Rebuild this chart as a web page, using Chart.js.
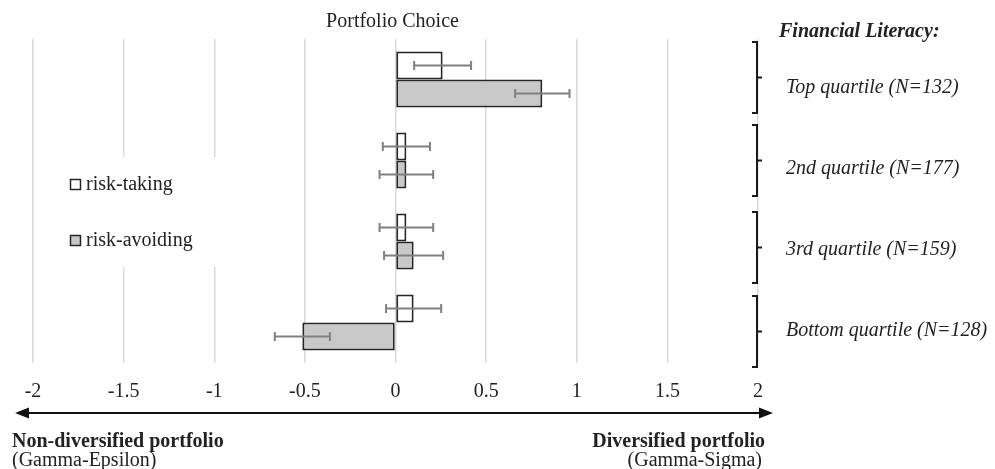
<!DOCTYPE html>
<html>
<head>
<meta charset="utf-8">
<title>Portfolio Choice</title>
<script src="https://cdn.jsdelivr.net/npm/chart.js@4"></script>
<style>
  html, body { margin: 0; padding: 0; background: #ffffff; }
  canvas { display: block; }
</style>
</head>
<body>
<canvas id="chart" width="995" height="469"></canvas>
<script>
// Financial literacy groups, top to bottom
const categories = [
  'Top quartile (N=132)',
  '2nd quartile (N=177)',
  '3rd quartile (N=159)',
  'Bottom quartile (N=128)'
];

// Mean portfolio choice score per group and its error half-width
const riskTaking = [0.26, 0.06, 0.06, 0.10];
const riskTakingErr = [0.157, 0.13, 0.148, 0.152];
const riskAvoiding = [0.81, 0.06, 0.10, -0.514];
const riskAvoidingErr = [0.15, 0.148, 0.163, 0.152];

const seriesNames = ['risk-taking', 'risk-avoiding'];

const SERIF = '"Liberation Serif", "Times New Roman", serif';
const INK = '#222222';

// Right-hand group brackets: vertical shift relative to each row centre
const bracketShift = [-2, 0, 6, 9];

const decor = {
  id: 'decor',
  afterDatasetsDraw(chart) {
    const ctx = chart.ctx;
    const xs = chart.scales.x;
    ctx.save();
    // error bars
    chart.data.datasets.forEach((ds, di) => {
      const meta = chart.getDatasetMeta(di);
      meta.data.forEach((bar, i) => {
        const v = ds.data[i];
        const e = ds.errors[i];
        const x1 = xs.getPixelForValue(v - e);
        const x2 = xs.getPixelForValue(v + e);
        const y = bar.y;
        ctx.strokeStyle = '#808080';
        ctx.lineWidth = 2;
        ctx.beginPath();
        ctx.moveTo(x1, y); ctx.lineTo(x2, y);
        ctx.moveTo(x1, y - 4.5); ctx.lineTo(x1, y + 4.5);
        ctx.moveTo(x2, y - 4.5); ctx.lineTo(x2, y + 4.5);
        ctx.stroke();
      });
    });
    ctx.restore();
  },
  afterDraw(chart) {
    const ctx = chart.ctx;
    const area = chart.chartArea;
    const ys = chart.scales.y;
    ctx.save();

    // title
    ctx.fillStyle = INK;
    ctx.font = '20px ' + SERIF;
    ctx.textAlign = 'center';
    ctx.textBaseline = 'middle';
    ctx.fillText('Portfolio Choice', (area.left + area.right) / 2 - 3, 22);

    // legend panel
    ctx.fillStyle = '#ffffff';
    ctx.fillRect(area.left + 6, 157, 190, 110);
    const legendY = [184.5, 240.5];
    chart.data.datasets.forEach((ds, di) => {
      const y = legendY[di];
      ctx.fillStyle = ds.backgroundColor;
      ctx.fillRect(70, y - 5.5, 11, 11);
      ctx.strokeStyle = '#262626';
      ctx.lineWidth = 1.5;
      ctx.strokeRect(70.5, y - 5, 10, 10);
      ctx.fillStyle = INK;
      ctx.font = '20px ' + SERIF;
      ctx.textAlign = 'left';
      ctx.textBaseline = 'middle';
      ctx.fillText(seriesNames[di], 86, y);
    });

    // group header and brackets
    ctx.fillStyle = INK;
    ctx.font = 'italic bold 20px ' + SERIF;
    ctx.textAlign = 'left';
    ctx.textBaseline = 'middle';
    ctx.fillText('Financial Literacy:', 779, 32);

    const bx = area.right - 1;
    categories.forEach((name, i) => {
      const c = ys.getPixelForValue(i);
      const mid = c + bracketShift[i];
      const top = mid - 35.5;
      const bot = mid + 35.5;
      ctx.strokeStyle = '#1a1a1a';
      ctx.lineWidth = 2;
      ctx.beginPath();
      ctx.moveTo(bx - 5, top); ctx.lineTo(bx, top);
      ctx.lineTo(bx, bot); ctx.lineTo(bx - 5, bot);
      ctx.moveTo(bx, mid); ctx.lineTo(bx + 5, mid);
      ctx.stroke();

      ctx.fillStyle = INK;
      ctx.font = 'italic 20px ' + SERIF;
      ctx.textAlign = 'left';
      ctx.fillText(name, 786, c + 8);
    });

    // direction arrow under the axis
    const ay = area.bottom + 50;
    ctx.strokeStyle = '#111111';
    ctx.fillStyle = '#111111';
    ctx.lineWidth = 2;
    ctx.beginPath();
    ctx.moveTo(26, ay); ctx.lineTo(762, ay);
    ctx.stroke();
    ctx.beginPath();
    ctx.moveTo(15, ay); ctx.lineTo(29, ay - 5.5); ctx.lineTo(29, ay + 5.5); ctx.closePath();
    ctx.fill();
    ctx.beginPath();
    ctx.moveTo(773, ay); ctx.lineTo(759, ay - 5.5); ctx.lineTo(759, ay + 5.5); ctx.closePath();
    ctx.fill();

    // end labels
    ctx.fillStyle = INK;
    ctx.textBaseline = 'middle';
    ctx.font = 'bold 20px ' + SERIF;
    ctx.textAlign = 'left';
    ctx.fillText('Non-diversified portfolio', 12, 442);
    ctx.textAlign = 'right';
    ctx.fillText('Diversified portfolio', 765, 442);
    ctx.font = '20px ' + SERIF;
    ctx.textAlign = 'left';
    ctx.fillText('(Gamma-Epsilon)', 12, 461);
    ctx.textAlign = 'right';
    ctx.fillText('(Gamma-Sigma)', 762, 461);

    ctx.restore();
  }
};

new Chart(document.getElementById('chart'), {
  type: 'bar',
  data: {
    labels: categories,
    datasets: [
      {
        label: seriesNames[0],
        data: riskTaking,
        errors: riskTakingErr,
        backgroundColor: '#ffffff',
        borderColor: '#262626',
        borderWidth: 2,
        borderSkipped: false
      },
      {
        label: seriesNames[1],
        data: riskAvoiding,
        errors: riskAvoidingErr,
        backgroundColor: '#c8c8c8',
        borderColor: '#262626',
        borderWidth: 2,
        borderSkipped: false
      }
    ]
  },
  options: {
    indexAxis: 'y',
    responsive: false,
    animation: false,
    layout: { padding: { left: 33, right: 237, top: 39, bottom: 0 } },
    datasets: { bar: { categoryPercentage: 0.69, barPercentage: 1 } },
    plugins: {
      legend: { display: false },
      title: { display: false },
      tooltip: { enabled: false }
    },
    scales: {
      x: {
        min: -2,
        max: 2,
        ticks: {
          stepSize: 0.5,
          color: INK,
          padding: 17,
          font: { family: SERIF, size: 20 },
          callback: (value) => String(Math.round(value * 10) / 10)
        },
        grid: { color: '#d9d9d9', lineWidth: 1.5, drawTicks: false },
        border: { display: false },
        afterFit(scale) { scale.height = 106; }
      },
      y: {
        display: false,
        grid: { display: false }
      }
    }
  },
  plugins: [decor]
});
</script>
</body>
</html>
